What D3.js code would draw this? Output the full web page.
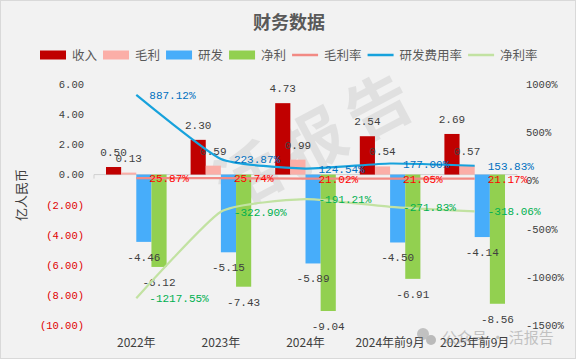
<!DOCTYPE html>
<html>
<head>
<meta charset="utf-8">
<script src="https://cdn.jsdelivr.net/npm/d3@7"></script>
<style>
  body { margin: 0; background: #fff; }
  text { font-family: "Noto Sans CJK SC", "Noto Sans", sans-serif; }
  .num { font-family: "Liberation Mono", "DejaVu Sans Mono", monospace; }
</style>
</head>
<body>
<script>
// chart data
const categories = ["2022年", "2023年", "2024年", "2024年前9月", "2025年前9月"];
const revenue     = [0.50, 2.30, 4.73, 2.54, 2.69];     // 收入
const grossProfit = [0.13, 0.59, 0.99, 0.54, 0.57];     // 毛利
const rnd         = [-4.46, -5.15, -5.89, -4.50, -4.14]; // 研发
const netProfit   = [-6.12, -7.43, -9.04, -6.91, -8.56]; // 净利
const grossMargin = [25.87, 25.74, 21.02, 21.05, 21.17];          // 毛利率 %
const rndRate     = [887.12, 223.87, 124.54, 177.00, 153.83];     // 研发费用率 %
const netMargin   = [-1217.55, -322.90, -191.21, -271.83, -318.06]; // 净利率 %
const leftTicks  = [6, 4, 2, 0, -2, -4, -6, -8, -10];
const rightTicks = [1000, 500, 0, -500, -1000, -1500];

const barSeries = [
  {name: "收入", values: revenue,     color: "#C00000"},
  {name: "毛利", values: grossProfit, color: "#FBAEA7"},
  {name: "研发", values: rnd,         color: "#47ADFA"},
  {name: "净利", values: netProfit,   color: "#92D050"}
];
const lineSeries = [
  {name: "毛利率",     values: grossMargin, color: "#F28A84", label: "#FF0000"},
  {name: "研发费用率", values: rndRate,     color: "#17A2DC", label: "#0070C0"},
  {name: "净利率",     values: netMargin,   color: "#C2E2A2", label: "#00B050"}
];

const W = 577, H = 361;
const svg = d3.select("body").append("svg")
    .attr("width", W).attr("height", H);

// background + frame
svg.append("rect").attr("x", 0.5).attr("y", 0.5)
    .attr("width", W - 2).attr("height", H - 3)
    .attr("fill", "#F2F2F2").attr("stroke", "#D9D9D9");

// scales
const x = d3.scaleBand().domain(categories).range([94, 517]);
const xBar = d3.scaleBand().domain(barSeries.map(s => s.name))
    .range([12, x.bandwidth() - 12]);
const yL = d3.scaleLinear().domain([-10, 6]).range([325.5, 84]);
const yR = d3.scaleLinear().domain([-1500, 1000]).range([325.5, 84]);

// faint watermark
const wm = svg.append("g").attr("transform", "translate(318,140) rotate(-28)");
wm.append("text").text("活报告")
    .attr("text-anchor", "middle").attr("dy", "0.35em")
    .attr("font-size", 64).attr("font-weight", "bold")
    .attr("fill", "#000").attr("opacity", 0.07)
    .attr("letter-spacing", 10);

// left axis
const axL = svg.append("g").attr("transform", "translate(88,0)")
    .call(d3.axisLeft(yL).tickValues(leftTicks).tickSize(0).tickPadding(4)
      .tickFormat(d => d < 0 ? "(" + Math.abs(d).toFixed(2) + ")" : d.toFixed(2)));
axL.select(".domain").remove();
axL.selectAll("text").attr("class", "num").attr("font-size", 10.5)
    .attr("fill", d => d < 0 ? "#E00000" : "#404040");

// right axis
const axR = svg.append("g").attr("transform", "translate(522,0)")
    .call(d3.axisRight(yR).tickValues(rightTicks).tickSize(0).tickPadding(4)
      .tickFormat(d => d + "%"));
axR.select(".domain").remove();
axR.selectAll("text").attr("class", "num").attr("font-size", 10.5)
    .attr("fill", "#404040");

// y title
svg.append("text").text("亿人民币")
    .attr("transform", "translate(26,195) rotate(-90)")
    .attr("text-anchor", "middle").attr("font-size", 13).attr("fill", "#404040");

// zero line with category ticks
const y0 = yL(0);
svg.append("line").attr("x1", 94).attr("x2", 517).attr("y1", y0).attr("y2", y0)
    .attr("stroke", "#D0D0D0").attr("stroke-width", 1);
svg.selectAll(".ctick").data(categories.concat([null])).enter().append("line")
    .attr("x1", (d, i) => 94 + i * x.step()).attr("x2", (d, i) => 94 + i * x.step())
    .attr("y1", y0).attr("y2", y0 + 4)
    .attr("stroke", "#D0D0D0");

// category labels
svg.selectAll(".cat").data(categories).enter().append("text")
    .attr("x", d => x(d) + x.bandwidth() / 2).attr("y", 347)
    .attr("text-anchor", "middle").attr("font-size", 12).attr("fill", "#404040")
    .text(d => d);

// bars
const groups = svg.selectAll(".grp").data(categories).enter().append("g")
    .attr("transform", d => "translate(" + x(d) + ",0)");
barSeries.forEach(s => {
  groups.append("rect")
      .attr("x", xBar(s.name)).attr("width", xBar.bandwidth())
      .attr("y", (d, i) => yL(Math.max(0, s.values[i])))
      .attr("height", (d, i) => Math.abs(yL(s.values[i]) - y0))
      .attr("fill", s.color);
});

// lines (lightly smoothed)
const cx = d => x(d) + x.bandwidth() / 2;
lineSeries.forEach(s => {
  const line = d3.line().curve(d3.curveCardinal.tension(0.5))
      .x((d, i) => cx(categories[i])).y(d => yR(d));
  svg.append("path").datum(s.values)
      .attr("d", line).attr("fill", "none")
      .attr("stroke", s.color).attr("stroke-width", 2.2);
});

// bar labels
barSeries.forEach(s => {
  groups.append("text").attr("class", "num")
      .attr("x", xBar(s.name) + xBar.bandwidth() / 2)
      .attr("y", (d, i) => s.values[i] >= 0 ? yL(s.values[i]) - 11 : yL(s.values[i]) + 19)
      .attr("text-anchor", "middle").attr("font-size", 11).attr("fill", "#404040")
      .text((d, i) => s.values[i].toFixed(2));
});

// line labels
lineSeries.forEach(s => {
  svg.selectAll(null).data(s.values).enter().append("text").attr("class", "num")
      .attr("x", (d, i) => cx(categories[i]) + 13)
      .attr("y", d => yR(d) + 4)
      .attr("font-size", 11).attr("fill", s.label)
      .text(d => d.toFixed(2) + "%");
});

// title
svg.append("text").text("财务数据")
    .attr("x", 289).attr("y", 29).attr("text-anchor", "middle")
    .attr("font-size", 18).attr("font-weight", "bold").attr("fill", "#595959");

// legend
const legendItems = barSeries.map(s => ({name: s.name, color: s.color, type: "bar"}))
    .concat(lineSeries.map(s => ({name: s.name, color: s.color, type: "line"})));
const legend = svg.append("g").attr("transform", "translate(40,55)");
let lx = 0;
legendItems.forEach(it => {
  if (it.type === "bar") {
    legend.append("rect").attr("x", lx).attr("y", -4.5).attr("width", 26).attr("height", 9)
        .attr("fill", it.color);
  } else {
    legend.append("line").attr("x1", lx).attr("x2", lx + 26).attr("y1", 0).attr("y2", 0)
        .attr("stroke", it.color).attr("stroke-width", 2.5);
  }
  const t = legend.append("text").attr("x", lx + 32).attr("y", 4.5)
      .attr("font-size", 12.5).attr("fill", "#595959").text(it.name);
  lx += 32 + t.node().getComputedTextLength() + 6;
});

// account watermark
const acc = svg.append("g").attr("opacity", 0.45);
acc.append("circle").attr("cx", 423).attr("cy", 334).attr("r", 6).attr("fill", "#888");
acc.append("circle").attr("cx", 431).attr("cy", 340).attr("r", 5).attr("fill", "#777");
acc.append("text").text("公众号 · 活报告")
    .attr("x", 442).attr("y", 343).attr("font-size", 15).attr("fill", "#888");
</script>
</body>
</html>
